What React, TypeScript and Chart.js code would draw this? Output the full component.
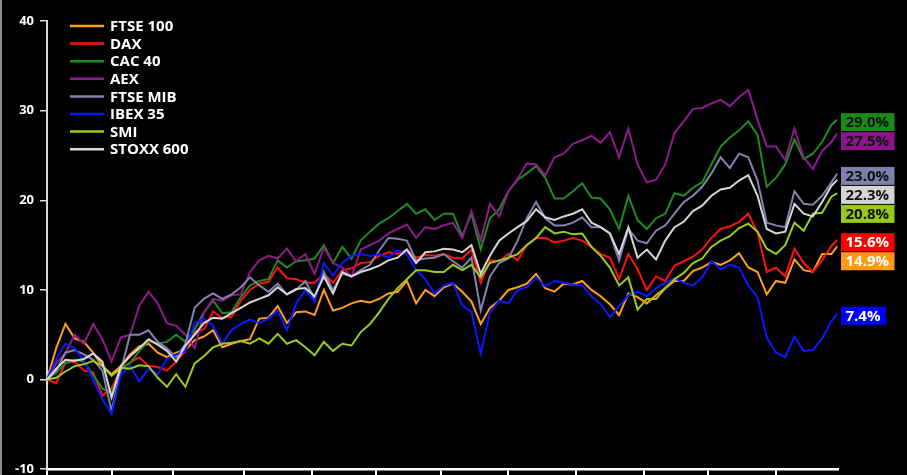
import React, { useEffect, useRef } from 'react';
import { Chart, registerables } from 'chart.js';

Chart.register(...registerables);

// trading-day index of each sample (2021, every third session)
const tradingDays = [
  0, 3, 6, 9, 12, 15, 18, 21, 24, 27, 30, 33, 36, 39, 42, 45, 48, 51, 54, 57,
  60, 63, 66, 69, 72, 75, 78, 81, 84, 87, 90, 93, 96, 99, 102, 105, 108, 111, 114, 117,
  120, 123, 126, 129, 132, 135, 138, 141, 144, 147, 150, 153, 156, 159, 162, 165, 168, 171, 174, 177,
  180, 183, 186, 189, 192, 195, 198, 201, 204, 207, 210, 213, 216, 219, 222, 225, 228, 231, 234, 237,
  240, 243, 246, 249, 252, 255, 257,
];
const lastDay = 257;
// first session of each month (tick marks)
const monthTickDays = [0, 21, 41, 64, 86, 107, 128, 150, 172, 194, 215, 237];
const monthLabels = ['Jan', 'Feb', 'Mar', 'Apr', 'May', 'Jun', 'Jul', 'Aug', 'Sep', 'Oct', 'Nov', 'Dec'];

const seriesNames = ['FTSE 100', 'DAX', 'CAC 40', 'AEX', 'FTSE MIB', 'IBEX 35', 'SMI', 'STOXX 600'];

const ftse100 = [
  0, 3.5, 6.2, 4.6, 4.2, 3, 1.5, 0.6, 1.5, 2.8, 3.7, 4, 3, 2.5, 3, 3.3, 4.4, 4.8, 5.5, 3.6,
  4, 4.3, 4.5, 6.8, 6.9, 8.2, 6.3, 7.5, 7.6, 7.2, 10, 7.7, 8, 8.5, 8.8, 8.6, 9, 9.6, 9.8, 11,
  8.5, 10, 9.3, 10.3, 10.7, 9.8, 8.7, 6.2, 8, 8.8, 10, 10.3, 10.7, 11.8, 10.2, 9.8, 10.7, 10.6, 11, 10,
  9.3, 8.4, 7.2, 9.6, 9.2, 8.5, 9.4, 10.2, 11, 11, 12.1, 12.5, 13.1, 12.8, 13.3, 14.1, 12.5, 12, 9.5, 11,
  10.8, 13.4, 12.2, 12, 14, 14, 14.9,
];
const dax = [
  0, -0.4, 1.9, 2, 1, 0.8, -1.8, -1, 1.3, 1.9, 2.5, 1.5, 1.4, 1, 2, 3.2, 5.3, 5.6, 7.6, 6.9,
  7, 8.8, 10, 10.7, 10.9, 12.5, 11.3, 11.2, 10.8, 10.8, 11.8, 10.8, 12.2, 12.4, 13, 13.1, 13.8, 14.2, 14, 14.5,
  13.6, 13.9, 13.8, 14, 13.6, 13.5, 14.5, 10.8, 13.3, 13.2, 14, 13.3, 15, 15.8, 15.8, 15.3, 15.5, 15.8, 15.5, 14.8,
  14, 13.6, 11.2, 14, 12.3, 10, 11.5, 11, 12.7, 13.2, 13.7, 14.5, 15.8, 16.8, 17.1, 17.6, 18.5, 16.4, 12, 12.5,
  11.5, 14.6, 13, 12, 13.3, 14.9, 15.6,
];
const cac40 = [
  0, 0.8, 1.8, 2.2, 2, 0.5, -1, -1.5, 1.3, 1.8, 3.2, 4.3, 4, 4.2, 5, 4.2, 5.6, 7.5, 8.8, 7.4,
  7.5, 9.2, 10.5, 11, 11.2, 13.3, 12.5, 13.2, 13.3, 13.5, 15, 13, 14.8, 13.5, 15.5, 16.5, 17.4, 18, 18.8, 19.6,
  18.5, 19, 17.8, 18.5, 18.5, 16, 18.5, 14.5, 18, 19, 21, 22.3, 23, 23.8, 22.5, 20.2, 20.2, 21, 21.9, 20.3,
  20.2, 19, 16.8, 20.5, 17.8, 16.8, 18, 18.5, 20.8, 20.5, 21.4, 22, 24, 26, 27, 27.8, 28.8, 27.3, 21.5, 22.5,
  24, 26.8, 24.6, 25.2, 26.5, 28.4, 29.0,
];
const aex = [
  0, 1.8, 3, 5, 4, 6.2, 4.5, 2, 4.7, 5, 8.2, 9.8, 8.5, 6.3, 6, 5, 3.5, 7.5, 9, 8.8,
  9.4, 9.5, 12, 13.3, 13.8, 13.5, 14.6, 13.2, 14, 11.8, 14.7, 13, 12.5, 11.5, 14.5, 15, 15.5, 16.3, 16.8, 17.3,
  15.8, 17, 16.8, 17.2, 17.5, 15.8, 18.8, 15.5, 19.6, 18.2, 21, 22.4, 24.1, 24, 22.8, 24.8, 25.2, 26.3, 26.7, 27.2,
  26.4, 27.6, 24.8, 28, 24, 22, 22.3, 24, 27.5, 28.8, 30.2, 30.3, 30.8, 31.2, 30.5, 31.5, 32.3, 29, 26, 26,
  24.5, 28, 24.8, 23.5, 25.5, 26.5, 27.5,
];
const ftseMib = [
  0, 1, 3, 3.3, 2.8, 2.2, 1, -3.5, 1, 5, 5, 5.5, 4.2, 3.5, 2.5, 4, 8, 9, 9.6, 9,
  9.5, 10.3, 11.4, 10.5, 9.8, 10.7, 9.5, 10, 11, 9, 12, 10, 11.8, 11.5, 12.2, 12.8, 14.4, 15.8, 15.7, 15.5,
  13.3, 13.5, 13.6, 14, 13.2, 12.5, 13.6, 7.7, 11.5, 13, 13.5, 15.5, 18, 19.8, 18, 17.2, 17.2, 17.5, 18.1, 17,
  17, 16.3, 13.3, 16.8, 15.5, 15.2, 16.6, 17.2, 18.5, 19.8, 20.5, 21.5, 23, 24.8, 23.6, 25.2, 24.8, 22.2, 17.5, 17.2,
  17, 21, 19.6, 19.5, 20.5, 22, 23.0,
];
const ibex35 = [
  0, 2.3, 4, 3.5, 2.1, 0, -2.2, -3.8, 0.5, 1.5, -0.2, 1.2, 0.6, 2.3, 2.8, 3.2, 6.3, 6.8, 6, 4,
  5.5, 6.2, 6.7, 6.3, 6.8, 7.7, 5.5, 8.5, 10, 8.7, 13, 11.6, 13, 13.8, 14, 13.8, 14, 13.6, 14.4, 14,
  12.2, 11.2, 9.6, 10.5, 10.8, 8.3, 7.5, 2.9, 7.5, 8.8, 8.5, 10, 10.3, 11.4, 10.4, 11, 10.8, 10.6, 10.5, 9.3,
  8.4, 7, 8.2, 9.4, 9.8, 9.3, 10.2, 10.8, 11.3, 10.8, 10.5, 11.4, 13.2, 12.3, 12.8, 12.5, 10.5, 9.2, 4.7, 3,
  2.5, 4.8, 3.2, 3.3, 4.6, 6.5, 7.4,
];
const smi = [
  0, 0.2, 0.9, 1.5, 1.7, 2.1, 1.5, 0.4, 1.3, 1.2, 1.6, 1.5, 0.2, -0.8, 0.6, -0.8, 1.8, 2.6, 3.6, 4,
  4.1, 4.3, 4, 4.6, 4, 5.1, 4, 4.4, 3.6, 2.7, 4.2, 3.2, 4, 3.8, 5.3, 6.2, 7.5, 9, 10.2, 11.2,
  12.2, 12.2, 12, 12, 12.8, 12.2, 12.8, 11.4, 13, 13.3, 13.6, 14, 15, 15.8, 17, 16.3, 16.5, 16.2, 16.3, 14.8,
  13.8, 12.5, 10.5, 11.4, 7.8, 9, 9, 10.2, 11.2, 11.9, 13, 13.5, 14.8, 15.5, 16, 16.9, 17.4, 16.5, 14.6, 14,
  15, 17.5, 16.6, 18.5, 18.6, 20.4, 20.8,
];
const stoxx600 = [
  0, 1.2, 2.2, 2.1, 2.3, 2.9, 2, -2, 1.5, 2.6, 3.5, 4.5, 3.9, 3.2, 2, 3.8, 5, 6.3, 6.9, 6.8,
  7.4, 8, 8.6, 9, 9.4, 10.3, 9.5, 10.1, 10.2, 9.3, 11.5, 9.6, 12, 11.5, 12, 12.3, 12.7, 13.3, 13.6, 14.5,
  13, 14.2, 14.3, 14.6, 14.5, 14.2, 15, 11.8, 13.8, 15.5, 16.3, 17, 17.7, 19, 18.1, 17.8, 18.2, 18.5, 19, 17.5,
  17, 16.3, 14, 17, 13.6, 14.5, 13.4, 15.5, 17, 17.6, 18.8, 19.4, 20.5, 21.2, 21.4, 22.2, 22.8, 20.5, 16.8, 16.3,
  16.5, 19.6, 18.5, 18.2, 19.8, 21.6, 22.3,
];

const seriesValues = [ftse100, dax, cac40, aex, ftseMib, ibex35, smi, stoxx600];
const yTicks = [-10, 0, 10, 20, 30, 40];

const lineColors = ['#ff9d1e', '#ff1010', '#1f8c1f', '#8e1a8e', '#8282ae', '#0a18ff', '#9acb1e', '#d6d6d6'];
const boxColors = ['#ff9a10', '#ff0000', '#178a17', '#8e148e', '#7f7fab', '#0000ff', '#97c81a', '#d4d4d4'];
const boxTextColors = ['#ffffff', '#ffffff', '#111111', '#111111', '#111111', '#ffffff', '#111111', '#111111'];

const FONT = '"Open Sans", "DejaVu Sans", sans-serif';

const legendPlugin = {
  id: 'insideLegend',
  afterDraw(chart: any) {
    const { ctx, chartArea } = chart;
    ctx.save();
    ctx.font = `bold 15px ${FONT}`;
    ctx.textBaseline = 'middle';
    ctx.textAlign = 'left';
    chart.data.datasets.forEach((ds: any, i: number) => {
      const y = chartArea.top + 5 + i * 17.6;
      const x0 = chartArea.left + 23;
      ctx.strokeStyle = ds.borderColor;
      ctx.lineWidth = 2.5;
      ctx.beginPath();
      ctx.moveTo(x0, y);
      ctx.lineTo(x0 + 34, y);
      ctx.stroke();
      ctx.fillStyle = '#ffffff';
      ctx.fillText(ds.label, x0 + 40, y + 1);
    });
    ctx.restore();
  },
};

const endLabelPlugin = {
  id: 'endLabels',
  afterDatasetsDraw(chart: any) {
    const { ctx, chartArea } = chart;
    const yScale = chart.scales.y;
    const items = seriesValues.map((vals, i) => {
      const v = vals[vals.length - 1];
      return { i, v, y: yScale.getPixelForValue(v) + 2.5 };
    });
    items.sort((a, b) => a.y - b.y);
    let prev = -Infinity;
    const h = 18;
    for (const it of items) {
      if (it.y < prev + h + 1) it.y = prev + h + 1;
      prev = it.y;
    }
    ctx.save();
    ctx.font = `bold 15px ${FONT}`;
    ctx.textBaseline = 'middle';
    ctx.textAlign = 'left';
    for (const it of items) {
      const text = it.v.toFixed(1) + '%';
      const w = ctx.measureText(text).width + 10;
      const x = chartArea.right + 3.5;
      ctx.fillStyle = boxColors[it.i];
      ctx.fillRect(x, it.y - h / 2, w, h);
      ctx.fillStyle = boxTextColors[it.i];
      ctx.fillText(text, x + 4.5, it.y + 1);
    }
    ctx.restore();
  },
};

export default function App() {
  const canvasRef = useRef<HTMLCanvasElement | null>(null);

  useEffect(() => {
    if (!canvasRef.current) return;
    Chart.defaults.font.family = FONT;
    const chart = new Chart(canvasRef.current, {
      type: 'line',
      data: {
        datasets: seriesNames.map((name, i) => ({
          label: name,
          data: seriesValues[i].map((v, k) => ({ x: tradingDays[k], y: v })),
          borderColor: lineColors[i],
          backgroundColor: lineColors[i],
          borderWidth: 2,
          pointRadius: 0,
          tension: 0,
          fill: false,
          order: seriesNames.length - i,
        })),
      },
      options: {
        animation: false,
        responsive: false,
        devicePixelRatio: 1,
        layout: { padding: { top: 21, right: 69.5, bottom: 0, left: 0 } },
        plugins: {
          legend: { display: false },
          tooltip: { enabled: false },
        },
        scales: {
          x: {
            type: 'linear',
            min: 0,
            max: lastDay,
            afterBuildTicks: (s: any) => {
              s.ticks = monthTickDays.map((v) => ({ value: v }));
            },
            ticks: {
              display: false,
              callback: (_v: any, idx: number) => monthLabels[idx],
            },
            grid: {
              display: true,
              drawOnChartArea: false,
              drawTicks: true,
              tickLength: 8,
              color: '#ffffff',
              lineWidth: 2,
            },
            border: { display: true, color: '#ffffff', width: 2.5 },
          },
          y: {
            type: 'linear',
            min: -10,
            max: 40,
            afterBuildTicks: (s: any) => {
              s.ticks = yTicks.map((v) => ({ value: v }));
            },
            afterFit: (s: any) => {
              s.width = 47;
            },
            ticks: {
              color: '#ffffff',
              font: { size: 13, weight: 'bold', family: FONT },
              padding: 6,
            },
            grid: {
              display: true,
              drawOnChartArea: false,
              drawTicks: true,
              tickLength: 7,
              color: '#d8d8d8',
              lineWidth: 1.5,
            },
            border: { display: true, color: '#d8d8d8', width: 2 },
          },
        },
      },
      plugins: [endLabelPlugin, legendPlugin],
    });
    return () => chart.destroy();
  }, []);

  return (
    <div
      style={{
        position: 'fixed',
        left: 0,
        top: 0,
        width: 907,
        height: 475,
        background: '#000000',
        overflow: 'hidden',
      }}
    >
      <canvas ref={canvasRef} width={907} height={483} style={{ display: 'block' }} />
      <div
        style={{
          position: 'absolute',
          left: 0,
          top: 0,
          width: 2,
          height: 475,
          background: '#8a8a8a',
        }}
      />
    </div>
  );
}
